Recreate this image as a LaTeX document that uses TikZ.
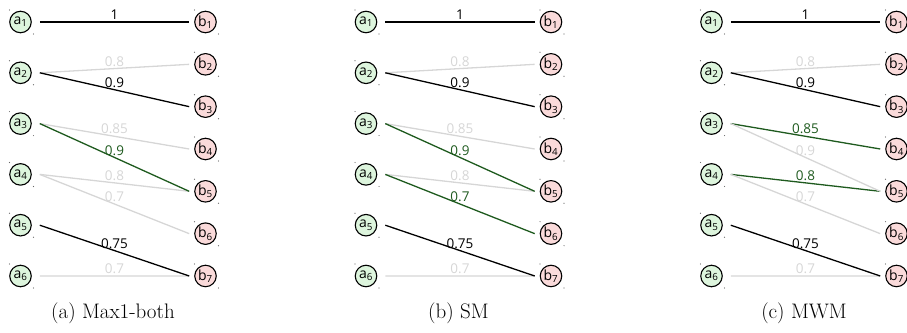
\documentclass[tikz,border=0pt]{standalone}
\usepackage{fontspec}
\setsansfont{Open Sans}
\usetikzlibrary{calc}
\definecolor{leftfill}{HTML}{DDF5DD}
\definecolor{rightfill}{HTML}{FADADA}
\definecolor{chosen}{HTML}{1E5A1E}
\definecolor{faint}{HTML}{D6D6D6}
\tikzset{
  vtx/.style={circle,draw=black,line width=1.1pt,minimum size=21.5pt,inner sep=0pt,
    font=\sffamily\fontsize{14}{14}\selectfont},
  avtx/.style={vtx,fill=leftfill},
  bvtx/.style={vtx,fill=rightfill},
  wlab/.style={midway,above,inner sep=1.5pt,font=\sffamily\fontsize{13.5}{13.5}\selectfont},
  offedge/.style={draw=faint,line width=1.3pt,text=faint},
  onedge/.style={draw=black,line width=1.3pt,text=black},
  greenedge/.style={draw=chosen,line width=1.3pt,text=chosen},
  cornerdot/.style={fill=black!60,draw=none},
  caption/.style={font=\fontsize{21}{24}\selectfont,anchor=base}
}
% one panel: #1 prefix, #2 x of left column, styles of the four middle edges, #7 caption
\newcommand{\matchpanel}[7]{%
  \foreach \i in {1,...,6} {
    \node[avtx] (#1a\i) at (#2, {22+(\i-1)*50.8}) {a\textsubscript{\i}};
    \fill[cornerdot] ($(#1a\i)+(-11,-12)$) circle (0.6);
    \fill[cornerdot] ($(#1a\i)+(13,12)$) circle (0.6);
  }
  \foreach \j in {1,...,7} {
    \node[bvtx] (#1b\j) at (#2+185, {22+(\j-1)*42.33}) {b\textsubscript{\j}};
    \fill[cornerdot] ($(#1b\j)+(-11,-12)$) circle (0.6);
    \fill[cornerdot] ($(#1b\j)+(13,12)$) circle (0.6);
  }
  % unselected edges first, so coloured ones sit on top
  \path[offedge] ([xshift=8pt]#1a2.east) -- ([xshift=-5pt]#1b2.west) node[wlab] {0.8};
  \path[offedge] ([xshift=8pt]#1a6.east) -- ([xshift=-5pt]#1b7.west) node[wlab] {0.7};
  \path[#3] ([xshift=8pt]#1a3.east) -- ([xshift=-5pt]#1b4.west) node[wlab] {0.85};
  \path[#5] ([xshift=8pt]#1a4.east) -- ([xshift=-5pt]#1b5.west) node[wlab] {0.8};
  \path[#6] ([xshift=8pt]#1a4.east) -- ([xshift=-5pt]#1b6.west) node[wlab] {0.7};
  \path[#4] ([xshift=8pt]#1a3.east) -- ([xshift=-5pt]#1b5.west) node[wlab] {0.9};
  \path[onedge] ([xshift=8pt]#1a1.east) -- ([xshift=-5pt]#1b1.west) node[wlab] {1};
  \path[onedge] ([xshift=8pt]#1a2.east) -- ([xshift=-5pt]#1b3.west) node[wlab] {0.9};
  \path[onedge] ([xshift=8pt]#1a5.east) -- ([xshift=-5pt]#1b7.west) node[wlab] {0.75};
  \node[caption] (#1cap) at (#2+92.5, 318) {#7};
}
\begin{document}
\begin{tikzpicture}[x=1pt,y=-1pt]
  \useasboundingbox (0,0) rectangle (907,332);
  \matchpanel{p}{20.5}{offedge}{greenedge}{offedge}{offedge}{(a) Max1-both}
  \matchpanel{q}{366}{offedge}{greenedge}{offedge}{greenedge}{(b) SM}
  \matchpanel{r}{711.5}{greenedge}{offedge}{greenedge}{offedge}{(c) MWM}
\end{tikzpicture}
\end{document}
